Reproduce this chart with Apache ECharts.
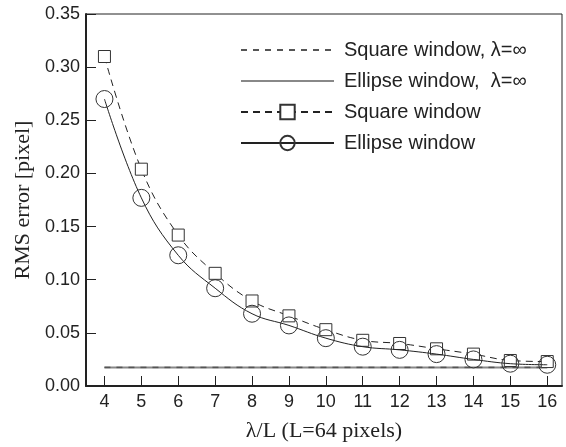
<!DOCTYPE html>
<html>
<head>
<meta charset="utf-8">
<script src="https://cdn.jsdelivr.net/npm/echarts@6/dist/echarts.min.js"></script>
<style>
  html, body { margin: 0; padding: 0; background: #fff; }
  #chart { width: 566px; height: 447px; }
</style>
</head>
<body>
<div id="chart"></div>
<script>
// lambda / L
const xValues = [4, 5, 6, 7, 8, 9, 10, 11, 12, 13, 14, 15, 16];
const squareWindow = [0.310, 0.204, 0.142, 0.106, 0.080, 0.066, 0.053, 0.043, 0.040, 0.035, 0.030, 0.024, 0.023];
const ellipseWindow = [0.270, 0.177, 0.123, 0.092, 0.068, 0.057, 0.045, 0.037, 0.034, 0.030, 0.025, 0.021, 0.020];
// lambda = infinity limits
const squareInf = 0.0175;
const ellipseInf = 0.0175;
const xTicks = [4, 5, 6, 7, 8, 9, 10, 11, 12, 13, 14, 15, 16];

const pairs = (ys) => xValues.map((x, i) => [x, ys[i]]);
const flat = (v) => [[xValues[0], v], [xValues[xValues.length - 1], v]];

const chart = echarts.init(document.getElementById("chart"));

const sans = "Liberation Sans, Arial, sans-serif";
const serif = "Liberation Serif, Times New Roman, serif";

const option = {
  animation: false,
  backgroundColor: "#fff",
  grid: { left: 86, right: 4, top: 14, bottom: 60, show: true, borderColor: "#222", borderWidth: 1 },
  legend: {
    left: 235,
    top: 35,
    orient: "vertical",
    itemWidth: 93,
    itemHeight: 18,
    itemGap: 11,
    textStyle: { fontFamily: sans, fontSize: 20, color: "#222", padding: [0, 0, 0, 5] },
    data: [
      { name: "Square window, λ=∞", itemStyle: { opacity: 0 } },
      { name: "Ellipse window,  λ=∞", itemStyle: { opacity: 0 } },
      { name: "Square window" },
      { name: "Ellipse window" },
    ],
  },
  xAxis: {
    type: "value",
    min: 3.5,
    max: 16.4,
    name: "λ/L (L=64 pixels)",
    nameLocation: "middle",
    nameGap: 34,
    nameTextStyle: { fontFamily: serif, fontSize: 22, color: "#222" },
    axisLine: { lineStyle: { color: "#222", width: 2 } },
    axisTick: { inside: true, length: 10, customValues: xTicks, lineStyle: { color: "#222" } },
    axisLabel: { customValues: xTicks, fontFamily: sans, fontSize: 18, color: "#222", margin: 7 },
    splitLine: { show: false },
  },
  yAxis: {
    type: "value",
    min: 0,
    max: 0.35,
    interval: 0.05,
    name: "RMS error [pixel]",
    nameLocation: "middle",
    nameGap: 50,
    nameTextStyle: { fontFamily: serif, fontSize: 22, color: "#222" },
    axisLine: { lineStyle: { color: "#222", width: 2 } },
    axisTick: { inside: true, length: 10, lineStyle: { color: "#222" } },
    axisLabel: { fontFamily: sans, fontSize: 18, color: "#222", margin: 6, formatter: (v) => v.toFixed(2) },
    splitLine: { show: false },
  },
  series: [
    {
      name: "Ellipse window,  λ=∞",
      type: "line",
      data: flat(ellipseInf),
      symbol: "none",
      lineStyle: { color: "#888", width: 2, type: "solid" },
      itemStyle: { color: "#888" },
    },
    {
      name: "Square window, λ=∞",
      type: "line",
      data: flat(squareInf),
      symbol: "none",
      lineStyle: { color: "#555", width: 1.5, type: [6, 6] },
      itemStyle: { color: "#555" },
    },
    {
      name: "Square window",
      type: "line",
      data: pairs(squareWindow),
      smooth: 0.4,
      symbol: "rect",
      symbolSize: 12,
      lineStyle: { color: "#222", width: 1, type: [7, 5] },
      itemStyle: { color: "#fff", borderColor: "#333", borderWidth: 1 },
      z: 3,
    },
    {
      name: "Ellipse window",
      type: "line",
      data: pairs(ellipseWindow),
      smooth: 0.4,
      symbol: "circle",
      symbolSize: 17,
      lineStyle: { color: "#222", width: 1 },
      itemStyle: { color: "rgba(255,255,255,0)", borderColor: "#333", borderWidth: 1 },
      z: 4,
    },
  ],
};

chart.setOption(option);
</script>
</body>
</html>
